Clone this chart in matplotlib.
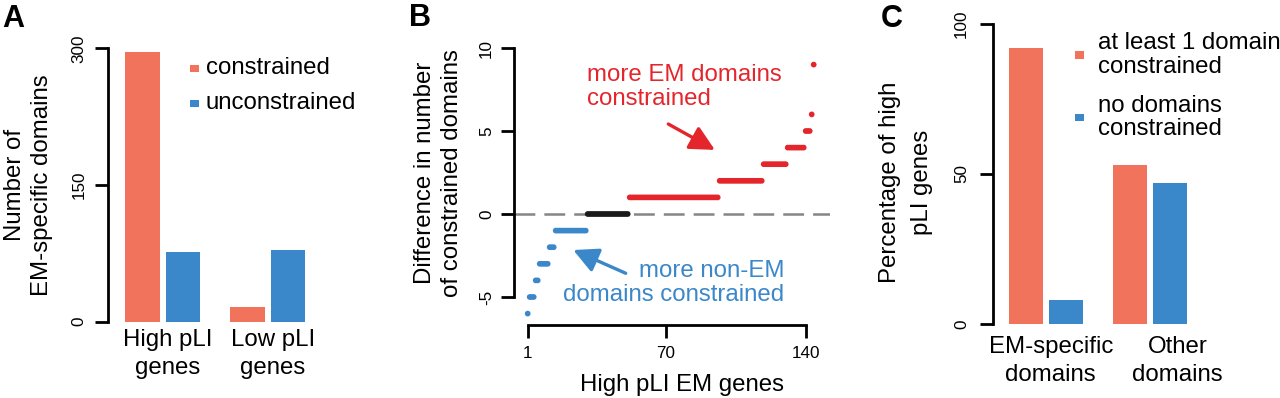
import numpy as np
import matplotlib
matplotlib.use("Agg")
import matplotlib.pyplot as plt
from matplotlib.patches import Rectangle

# ---------------- data ----------------
# Panel A
groups_A = ["High pLI\ngenes", "Low pLI\ngenes"]
constrained_A = [296, 16]
unconstrained_A = [76, 79]
legend_A = ["constrained", "unconstrained"]

# Panel B: difference per gene (sorted), as levels and how many genes sit at each
levels_B = [-6, -5, -4, -3, -2, -1, 0, 1, 2, 3, 4, 5, 6, 9]
counts_B = [1, 3, 2, 5, 3, 16, 21, 45, 22, 12, 9, 3, 1, 1]
xticks_B = [1, 70, 140]
yticks_B = [-5, 0, 5, 10]

# Panel C
groups_C = ["EM-specific\ndomains", "Other\ndomains"]
atleast1_C = [92, 53]
nodomain_C = [8, 47]
legend_C = ["at least 1 domain\nconstrained", "no domains\nconstrained"]

# ---------------- style ----------------
W, H = 1280, 398
DPI = 100
SALMON = "#F1735B"
BLUE = "#3A87C9"
RED = "#E4262C"
BLACK = "#1a1a1a"
FONT = "Liberation Sans"
plt.rcParams["font.family"] = [FONT, "DejaVu Sans"]
plt.rcParams["lines.scale_dashes"] = False

FS_LAB = 17.3   # axis labels / legend / annotations (pt)
FS_TICK = 12.3  # tick labels
FS_PANEL = 22
LW = 2.0
TICKLEN = 9.6
PX = 72.0 / DPI  # points per pixel

fig = plt.figure(figsize=(W / DPI, H / DPI), dpi=DPI)


def fx(px):
    return px / W


def fy(py):
    return 1 - py / H


def place(x0, x1, y0, y1):
    return fig.add_axes([fx(x0), fy(y1), (x1 - x0) / W, (y1 - y0) / H])


def ftext(px, py, s, **kw):
    kw.setdefault("fontsize", FS_LAB)
    fig.text(fx(px), fy(py), s, **kw)


def style_axes(ax):
    for sp in ["top", "right"]:
        ax.spines[sp].set_visible(False)
    for sp in ["left", "bottom"]:
        ax.spines[sp].set_linewidth(LW)
        ax.spines[sp].set_color("black")
    ax.tick_params(width=LW, length=TICKLEN, labelsize=FS_TICK, direction="out")
    ax.patch.set_alpha(0)


def y_ticklabels(ax, ticks, center_gap_px):
    ax.set_yticks(ticks)
    ax.set_yticklabels([str(t) for t in ticks], rotation=90, va="center", ha="center")
    ax.tick_params(axis="y", pad=(center_gap_px - TICKLEN / PX) * PX)


def grouped_bars(ax, v1, v2, c1, c2):
    pos = np.array([0.0, 3.05])
    ax.bar(pos, v1, width=1.0, color=c1, edgecolor="none")
    ax.bar(pos + 1.18, v2, width=1.0, color=c2, edgecolor="none")


# ---------------- Panel A ----------------
# pixel mapping: x px = 142.3 + 34.5*d ; y px = 321.7 - 0.911*v
axA = place(108.3, 340, 37, 325)
style_axes(axA)
grouped_bars(axA, constrained_A, unconstrained_A, SALMON, BLUE)
axA.set_xlim((108.3 - 142.3) / 34.5, (340 - 142.3) / 34.5)
axA.set_ylim((321.7 - 325) / 0.911, (321.7 - 37) / 0.911)
axA.spines["bottom"].set_visible(False)
axA.spines["left"].set_bounds(0, 300)
y_ticklabels(axA, [0, 150, 300], 29)
axA.set_xticks([])
for xpx, lab in zip([167.5, 273], groups_A):
    for k, line in enumerate(lab.split("\n")):
        ftext(xpx, 340 + 28.3 * k, line, ha="center", va="center")
ftext(15, 185, "Number of", rotation=90, ha="center", va="center")
ftext(41.7, 185, "EM-specific domains", rotation=90, ha="center", va="center")
# legend
for k, (lab, col) in enumerate(zip(legend_A, [SALMON, BLUE])):
    yc = 68.3 + 35 * k
    fig.patches.append(Rectangle((fx(189.5), fy(yc + 3.5)), 9 / W, 7 / H,
                                 transform=fig.transFigure, color=col, lw=0))
    ftext(205.7, yc, lab, ha="left", va="center")
ftext(13.3, 19, "A", fontsize=FS_PANEL, fontweight="bold", ha="center", va="center")

# ---------------- Panel B ----------------
# x px = 527.7 + 2.0*(g-1) ; y px = 214 - 16.6*v
axB = place(514.3, 830, 37, 325)
style_axes(axB)
diffs = np.repeat(levels_B, counts_B)
genes = np.arange(1, len(diffs) + 1)
cols = np.where(diffs < 0, BLUE, np.where(diffs > 0, RED, BLACK))
axB.axhline(0, color="#858585", lw=1.8, linestyle=(0, (15, 6.5)), zorder=1)
axB.scatter(genes, diffs, s=17, c=list(cols), edgecolors="none", zorder=3)
axB.set_xlim(1 + (514.3 - 527.7) / 2.0, 1 + (830 - 527.7) / 2.0)
axB.set_ylim((214 - 325) / 16.6, (214 - 37) / 16.6)
axB.spines["left"].set_bounds(-5, 10)
axB.spines["bottom"].set_bounds(1, 140)
y_ticklabels(axB, yticks_B, 27.6)
axB.set_xticks(xticks_B)
axB.set_xticklabels([str(t) for t in xticks_B], va="center")
axB.tick_params(axis="x", pad=(353.3 - 325 - TICKLEN / PX) * PX)
ftext(681.7, 385, "High pLI EM genes", ha="center", va="center")
ftext(425, 173, "Difference in number", rotation=90, ha="center", va="center")
ftext(452, 173, "of constrained domains", rotation=90, ha="center", va="center")
ftext(586.7, 75, "more EM domains", color=RED, ha="left", va="center")
ftext(586.7, 99, "constrained", color=RED, ha="left", va="center")
ftext(784.3, 270.7, "more non-EM", color=BLUE, ha="right", va="center")
ftext(784.3, 295, "domains constrained", color=BLUE, ha="right", va="center")
arrow_style = "-|>,head_length=0.75,head_width=0.38"
axB.annotate("", xy=(94.6, 3.86), xytext=(71.3, 5.42),
             arrowprops=dict(arrowstyle=arrow_style, color=RED, lw=2.4,
                             shrinkA=0, shrinkB=0, mutation_scale=20))
axB.annotate("", xy=(23.8, -2.17), xytext=(50.0, -3.57),
             arrowprops=dict(arrowstyle=arrow_style, color=BLUE, lw=2.4,
                             shrinkA=0, shrinkB=0, mutation_scale=20))
ftext(420, 18, "B", fontsize=FS_PANEL, fontweight="bold", ha="center", va="center")

# ---------------- Panel C ----------------
# x px = 1026 + 34*d ; y px = 324 - 3*v
axC = place(992.7, 1275, 20, 327)
style_axes(axC)
grouped_bars(axC, atleast1_C, nodomain_C, SALMON, BLUE)
axC.set_xlim((992.7 - 1026) / 34, (1275 - 1026) / 34)
axC.set_ylim((324 - 327) / 3.0, (324 - 20) / 3.0)
axC.spines["bottom"].set_visible(False)
axC.spines["left"].set_bounds(0, 100)
y_ticklabels(axC, [0, 50, 100], 31)
axC.set_xticks([])
for xpx, lab in zip([1050.8, 1177.7], groups_C):
    for k, line in enumerate(lab.split("\n")):
        ftext(xpx, 346.7 + 28.3 * k, line, ha="center", va="center")
ftext(890, 182.5, "Percentage of high", rotation=90, ha="center", va="center")
ftext(921.7, 182.5, "pLI genes", rotation=90, ha="center", va="center")
for k, (lab, col) in enumerate(zip(legend_C, [SALMON, BLUE])):
    yc = 55 + 62.3 * k
    fig.patches.append(Rectangle((fx(1075), fy(yc + 3.5)), 9 / W, 7 / H,
                                 transform=fig.transFigure, color=col, lw=0))
    lines = lab.split("\n")
    for j, line in enumerate(lines):
        ftext(1097.7, yc - 11.7 + 23.4 * j, line, ha="left", va="center")
ftext(891.7, 19, "C", fontsize=FS_PANEL, fontweight="bold", ha="center", va="center")

fig.savefig("out.png", dpi=DPI)
